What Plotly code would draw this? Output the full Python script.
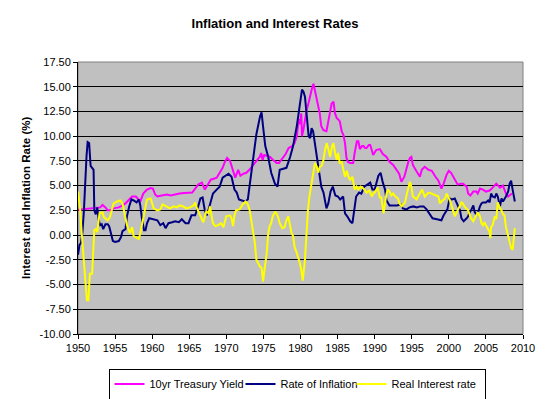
import plotly.graph_objects as go

# ---- data ----
treasury_years = [1950.0, 1950.5, 1951.0, 1951.5, 1952.0, 1952.5, 1953.0, 1953.3, 1953.7, 1954.0, 1954.4, 1954.8,
                  1955.5, 1956.0, 1956.4, 1956.9, 1957.3, 1957.8, 1958.1, 1958.4, 1958.8, 1959.3, 1959.8, 1960.1,
                  1960.4, 1960.7, 1961.3, 1962.0, 1962.5, 1963.0, 1963.7, 1964.3, 1965.0, 1965.4, 1965.8, 1966.2,
                  1966.7, 1967.1, 1967.5, 1967.9, 1968.3, 1968.7, 1969.1, 1969.5, 1969.8, 1970.1, 1970.5, 1970.9,
                  1971.2, 1971.6, 1971.9, 1972.3, 1972.7, 1973.1, 1973.6, 1974.0, 1974.5, 1974.7, 1974.9, 1975.1,
                  1975.6, 1975.9, 1976.3, 1976.8, 1977.1, 1977.6, 1978.0, 1978.4, 1978.9, 1979.2, 1979.5, 1979.75,
                  1979.95, 1980.1, 1980.2, 1980.4, 1980.6, 1980.85, 1981.1, 1981.3, 1981.5, 1981.75, 1982.0, 1982.2,
                  1982.4, 1982.6, 1982.8, 1983.1, 1983.5, 1983.8, 1984.2, 1984.45, 1984.65, 1984.9, 1985.1, 1985.3,
                  1985.55, 1985.8, 1986.0, 1986.2, 1986.4, 1986.7, 1987.1, 1987.3, 1987.6, 1987.8, 1988.0, 1988.3,
                  1988.5, 1988.7, 1988.9, 1989.2, 1989.4, 1989.8, 1990.2, 1990.7, 1991.1, 1991.6, 1992.0, 1992.5,
                  1992.9, 1993.3, 1993.6, 1994.0, 1994.5, 1994.75, 1994.95, 1995.15, 1995.6, 1996.1, 1996.35, 1996.75,
                  1997.25, 1997.7, 1998.2, 1998.6, 1999.0, 1999.3, 1999.7, 2000.0, 2000.3, 2000.6, 2001.0, 2001.2,
                  2001.6, 2001.9, 2002.4, 2002.6, 2002.9, 2003.3, 2003.7, 2003.9, 2004.2, 2004.6, 2005.0, 2005.5,
                  2005.9, 2006.4, 2006.9, 2007.3, 2007.5, 2007.7, 2008.0, 2008.2, 2008.5]
treasury = [2.55, 2.6, 2.65, 2.7, 2.7, 2.75, 2.8, 3.05, 2.8, 2.5, 2.5, 2.7,
            2.8, 3.0, 3.2, 3.6, 3.9, 3.9, 3.6, 3.4, 4.2, 4.6, 4.75, 4.7,
            4.1, 3.9, 4.0, 4.1, 4.0, 4.1, 4.2, 4.25, 4.25, 4.3, 4.7, 5.1,
            5.3, 4.6, 5.1, 5.6, 5.7, 5.8, 6.3, 6.8, 7.4, 7.8, 7.5, 6.6,
            5.8, 6.6, 6.0, 6.2, 6.3, 6.6, 7.1, 7.5, 7.9, 8.3, 7.6, 8.1,
            8.0, 7.9, 7.6, 7.3, 7.3, 7.8, 8.2, 8.8, 9.0, 9.3, 10.0, 11.7,
            11.2, 12.3, 10.0, 10.7, 11.7, 12.7, 13.4, 14.2, 14.7, 15.3, 14.4, 14.0,
            13.1, 12.3, 11.0, 10.6, 10.5, 11.7, 13.3, 13.5, 12.3, 11.8, 11.7, 11.5,
            10.5, 10.1, 9.3, 7.8, 7.4, 7.3, 7.3, 8.3, 9.5, 9.5, 8.7, 9.0,
            9.0, 8.8, 8.8, 9.1, 9.1, 8.1, 8.6, 8.7, 8.2, 7.9, 7.4, 7.1,
            6.6, 6.2, 5.4, 5.9, 7.3, 7.8, 7.9, 7.1, 6.5, 5.9, 6.6, 6.9,
            6.6, 6.5, 5.9, 5.5, 4.7, 5.2, 6.1, 6.5, 6.3, 5.9, 5.4, 5.1,
            5.2, 5.2, 4.9, 4.2, 4.0, 4.4, 4.4, 4.2, 4.7, 4.6, 4.4, 4.5,
            4.8, 5.2, 4.8, 5.0, 4.6, 4.2, 3.9, 4.0, 4.2]

inflation_years = [1950.0, 1950.2, 1950.4, 1950.6, 1950.8, 1951.0, 1951.15, 1951.3, 1951.5, 1951.7, 1951.9, 1952.1,
                   1952.2, 1952.4, 1952.6, 1952.8, 1953.0, 1953.2, 1953.4, 1953.7, 1954.0, 1954.2, 1954.5, 1954.7,
                   1955.0, 1955.5, 1955.8, 1956.0, 1956.4, 1956.6, 1956.9, 1957.2, 1957.5, 1957.9, 1958.2, 1958.4,
                   1958.6, 1958.9, 1959.1, 1959.3, 1959.6, 1960.0, 1960.4, 1960.7, 1961.1, 1961.5, 1961.8, 1962.2,
                   1962.7, 1963.1, 1963.6, 1964.0, 1964.5, 1964.9, 1965.3, 1965.8, 1966.2, 1966.5, 1966.8, 1967.1,
                   1967.4, 1967.8, 1968.2, 1968.7, 1969.1, 1969.5, 1970.0, 1970.3, 1970.7, 1971.1, 1971.4, 1971.7,
                   1972.1, 1972.5, 1972.9, 1973.15, 1973.65, 1974.05, 1974.55, 1974.75, 1974.95, 1975.25, 1975.65, 1976.05,
                   1976.55, 1976.9, 1977.2, 1977.7, 1978.1, 1978.6, 1979.0, 1979.5, 1979.9, 1980.2, 1980.4, 1980.6,
                   1980.85, 1981.1, 1981.3, 1981.5, 1981.7, 1982.0, 1982.2, 1982.4, 1982.6, 1982.8, 1983.1, 1983.3,
                   1983.5, 1983.75, 1984.05, 1984.35, 1984.7, 1985.05, 1985.35, 1985.75, 1986.0, 1986.3, 1986.7, 1987.0,
                   1987.2, 1987.5, 1987.9, 1988.2, 1988.6, 1989.1, 1989.4, 1989.7, 1990.0, 1990.5, 1990.8, 1991.1,
                   1991.4, 1991.6, 1992.0, 1992.5, 1993.0, 1993.5, 1993.8, 1994.3, 1994.7, 1995.2, 1995.7, 1996.1,
                   1996.6, 1997.0, 1997.4, 1997.8, 1998.4, 1999.0, 1999.3, 1999.8, 2000.1, 2000.4, 2000.8, 2001.0,
                   2001.2, 2001.5, 2001.7, 2002.0, 2002.4, 2002.6, 2002.8, 2003.0, 2003.3, 2003.5, 2003.7, 2003.9,
                   2004.2, 2004.4, 2004.6, 2005.0, 2005.3, 2005.5, 2005.7, 2005.9, 2006.2, 2006.4, 2006.6, 2006.9,
                   2007.1, 2007.3, 2007.7, 2008.0, 2008.2, 2008.4, 2008.6, 2008.9]
inflation = [-2.0, -1.0, -0.8, 0.3, 2.5, 6.0, 8.0, 9.4, 9.3, 7.0, 6.8, 6.6,
             2.5, 2.1, 2.8, 1.5, 1.0, 1.1, 0.6, 1.1, 1.1, 0.9, 0.0, -0.6,
             -0.7, -0.6, -0.2, 0.4, 0.6, 1.9, 2.9, 3.6, 3.5, 3.3, 3.6, 3.0,
             1.8, 0.5, 0.5, 1.2, 1.7, 1.6, 1.5, 1.5, 1.0, 1.2, 0.7, 1.2,
             1.3, 1.4, 1.3, 1.6, 1.2, 1.2, 2.0, 2.0, 2.9, 3.7, 3.8, 2.5,
             2.0, 3.0, 4.2, 4.6, 4.9, 5.8, 6.1, 6.2, 5.9, 4.6, 4.3, 3.6,
             3.5, 3.4, 3.6, 5.0, 7.9, 10.2, 12.0, 12.4, 11.0, 9.0, 7.9, 6.3,
             5.2, 4.9, 6.6, 6.7, 6.8, 7.9, 9.0, 11.0, 13.2, 14.7, 14.5, 14.0,
             12.0, 10.0, 9.8, 10.8, 10.5, 9.0, 7.6, 6.9, 5.6, 4.9, 4.3, 3.3,
             2.7, 3.2, 4.4, 4.9, 4.0, 3.9, 3.6, 3.9, 2.2, 1.9, 1.4, 1.2,
             2.2, 3.9, 4.3, 4.2, 4.9, 5.2, 5.3, 4.6, 4.6, 6.0, 6.3, 5.3,
             4.6, 3.5, 3.0, 3.0, 3.0, 3.1, 2.7, 2.6, 2.8, 2.9, 2.8, 2.9,
             2.9, 2.6, 2.2, 1.7, 1.6, 1.5, 2.0, 2.6, 3.7, 3.6, 3.7, 3.3,
             2.9, 2.5, 1.7, 1.4, 1.7, 1.9, 2.3, 2.5, 3.0, 2.3, 2.1, 2.2,
             2.9, 3.2, 3.3, 3.3, 3.5, 3.3, 4.2, 3.9, 3.8, 4.2, 3.9, 2.9,
             3.7, 3.4, 3.9, 4.4, 5.2, 5.5, 4.6, 3.4]

real_years = [1950.0, 1950.3, 1950.5, 1950.7, 1950.9, 1951.1, 1951.2, 1951.4, 1951.5, 1951.6, 1951.9, 1952.0,
              1952.2, 1952.4, 1952.6, 1952.9, 1953.3, 1953.5, 1954.0, 1954.3, 1954.6, 1954.8, 1955.3, 1955.7,
              1956.0, 1956.4, 1956.6, 1957.0, 1957.3, 1957.5, 1957.8, 1958.2, 1958.4, 1958.6, 1958.9, 1959.1,
              1959.3, 1959.8, 1960.0, 1960.2, 1960.7, 1961.1, 1961.4, 1962.0, 1962.4, 1962.9, 1963.3, 1963.7,
              1964.2, 1964.6, 1965.1, 1965.6, 1965.8, 1966.0, 1966.2, 1966.5, 1966.7, 1966.9, 1967.1, 1967.3,
              1967.6, 1967.8, 1968.0, 1968.2, 1968.5, 1968.9, 1969.3, 1969.6, 1970.0, 1970.5, 1970.7, 1970.9,
              1971.1, 1971.3, 1971.8, 1972.2, 1972.6, 1972.9, 1973.15, 1973.45, 1973.65, 1973.85, 1974.05, 1974.25,
              1974.55, 1974.75, 1974.85, 1974.95, 1975.15, 1975.45, 1975.65, 1975.85, 1976.05, 1976.25, 1976.6, 1976.95,
              1977.2, 1977.55, 1977.85, 1978.1, 1978.35, 1978.6, 1978.8, 1979.0, 1979.2, 1979.5, 1979.7, 1979.9,
              1980.1, 1980.3, 1980.6, 1980.8, 1981.0, 1981.2, 1981.5, 1981.75, 1981.95, 1982.2, 1982.4, 1982.6,
              1982.85, 1983.1, 1983.3, 1983.55, 1983.8, 1984.0, 1984.25, 1984.45, 1984.65, 1984.9, 1985.05, 1985.3,
              1985.55, 1985.8, 1986.0, 1986.25, 1986.45, 1986.7, 1987.0, 1987.3, 1987.55, 1987.8, 1988.1, 1988.5,
              1988.9, 1989.3, 1989.6, 1989.8, 1990.0, 1990.4, 1990.7, 1990.9, 1991.1, 1991.2, 1991.35, 1991.6,
              1991.8, 1992.0, 1992.25, 1992.5, 1992.8, 1993.15, 1993.35, 1993.65, 1993.85, 1994.1, 1994.35, 1994.55,
              1994.75, 1994.95, 1995.15, 1995.35, 1995.65, 1995.85, 1996.1, 1996.4, 1996.75, 1997.25, 1997.65, 1998.15,
              1998.6, 1998.8, 1999.0, 1999.5, 1999.7, 1999.95, 2000.1, 2000.4, 2000.6, 2000.8, 2001.0, 2001.2,
              2001.5, 2001.7, 2001.9, 2002.1, 2002.6, 2002.8, 2003.0, 2003.3, 2003.5, 2003.7, 2003.9, 2004.2,
              2004.4, 2004.6, 2004.8, 2005.0, 2005.3, 2005.5, 2005.6, 2005.7, 2005.9, 2006.2, 2006.4, 2006.6,
              2006.9, 2007.1, 2007.3, 2007.5, 2007.7, 2008.0, 2008.2, 2008.4, 2008.6, 2008.7, 2008.9]
real_rate = [4.4, 2.5, 0.2, -1.8, -3.9, -4.9, -6.6, -6.6, -5.2, -3.9, -3.9, -2.5,
             0.5, 0.6, 0.3, 2.2, 2.3, 1.8, 1.5, 1.8, 2.7, 3.2, 3.4, 3.5,
             3.2, 1.8, 1.0, 0.2, 0.8, -0.1, -0.2, -0.4, 0.2, 1.0, 2.2, 3.2,
             3.6, 3.7, 3.2, 2.7, 2.5, 2.6, 3.1, 2.9, 2.7, 2.9, 2.8, 3.0,
             2.9, 2.7, 2.8, 3.0, 3.3, 2.8, 2.4, 2.0, 1.6, 1.3, 1.8, 2.4,
             2.2, 2.9, 2.0, 1.2, 0.9, 1.0, 1.2, 0.8, 1.9, 2.0, 1.7, 0.9,
             2.0, 2.5, 2.6, 3.1, 3.4, 3.1, 2.5, 1.2, 0.2, -0.8, -2.5, -2.8,
             -3.2, -3.3, -3.9, -4.7, -3.5, -1.8, 0.2, 0.9, 1.2, 1.9, 2.4, 1.9,
             1.2, 0.7, 0.8, 1.5, 1.9, 1.1, 0.2, -0.1, -1.2, -1.8, -2.2, -2.8,
             -3.5, -4.6, -2.5, 0.5, 2.5, 3.9, 5.3, 6.6, 7.3, 6.9, 6.3, 6.9,
             7.0, 7.6, 8.6, 9.3, 8.3, 7.9, 9.0, 9.3, 8.3, 7.6, 8.3, 7.3,
             7.4, 6.6, 5.9, 6.5, 5.9, 5.6, 5.9, 4.6, 4.9, 4.6, 4.9, 4.7,
             4.3, 4.5, 3.9, 4.2, 4.3, 4.8, 3.8, 3.8, 2.5, 2.2, 3.0, 4.2,
             4.6, 4.4, 4.0, 4.2, 3.9, 3.7, 3.2, 2.9, 3.1, 3.3, 4.2, 4.9,
             5.4, 4.9, 3.9, 3.8, 3.6, 3.9, 4.2, 4.6, 3.9, 4.3, 4.2, 4.0,
             3.9, 3.2, 3.4, 3.7, 4.2, 3.8, 3.6, 2.9, 2.5, 1.9, 2.2, 2.5,
             3.1, 3.3, 3.2, 2.9, 2.5, 2.0, 1.7, 1.4, 1.7, 2.1, 2.3, 1.9,
             1.2, 1.0, 1.3, 1.0, 0.6, 0.3, -0.3, 0.8, 1.0, 1.9, 1.6, 3.3,
             2.7, 2.5, 2.1, 2.0, 0.8, -0.1, -0.6, -1.3, -1.5, -0.8, 0.7]

y_ticks = [-10, -7.5, -5, -2.5, 0, 2.5, 5, 7.5, 10, 12.5, 15, 17.5]
x_ticks = [1950, 1955, 1960, 1965, 1970, 1975, 1980, 1985, 1990, 1995, 2000, 2005, 2010]

FONT = "Liberation Sans, Arial, sans-serif"

fig = go.Figure()
fig.add_trace(go.Scatter(x=treasury_years, y=treasury, mode="lines", name="10yr Treasury Yield",
                         line=dict(color="#FF00FF", width=2), legendwidth=86))
fig.add_trace(go.Scatter(x=inflation_years, y=inflation, mode="lines", name="Rate of Inflation",
                         line=dict(color="#000080", width=2), legendwidth=66))
fig.add_trace(go.Scatter(x=real_years, y=real_rate, mode="lines", name="Real Interest rate",
                         line=dict(color="#FFFF00", width=2), legendwidth=88))

fig.update_layout(
    width=550, height=399,
    autosize=False,
    margin=dict(l=78, r=27, t=62, b=65, autoexpand=False),
    paper_bgcolor="white",
    plot_bgcolor="#C0C0C0",
    font=dict(family=FONT, size=11, color="black"),
    title=dict(text="Inflation and Interest Rates", x=0.5, xanchor="center",
               y=1 - 23 / 399, yanchor="middle",
               font=dict(family=FONT, size=13, color="black", weight="bold")),
    showlegend=True,
    legend=dict(orientation="h", x=(297 - 78) / 445, xanchor="center", y=-0.127, yanchor="top",
                bgcolor="white", bordercolor="black", borderwidth=1,
                font=dict(family=FONT, size=11, color="black"),
                itemwidth=30, tracegroupgap=0),
    xaxis=dict(range=[1950, 2010], tickmode="array", tickvals=x_ticks,
               ticktext=[str(v) for v in x_ticks],
               showgrid=False, zeroline=False, showline=True, linecolor="black", linewidth=1,
               ticks="outside", ticklen=4, tickcolor="black", tickfont=dict(size=11)),
    yaxis=dict(range=[-10, 17.5], tickmode="array", tickvals=y_ticks,
               ticktext=[f"{v:.2f}" for v in y_ticks],
               showgrid=True, gridcolor="black", gridwidth=1, zeroline=False,
               showline=True, linecolor="black", linewidth=1,
               ticks="outside", ticklen=4, tickcolor="black", tickfont=dict(size=11)),
    shapes=[dict(type="rect", xref="paper", yref="paper", x0=0, x1=1, y0=0, y1=1,
                 line=dict(color="#808080", width=1), layer="below")],
    annotations=[dict(text="Interest and Inflation Rate (%)", xref="paper", yref="paper",
                      x=(26 - 78) / 445, y=0.5, xanchor="center", yanchor="middle",
                      textangle=-90, showarrow=False,
                      font=dict(family=FONT, size=11.5, color="black", weight="bold"))],
)

fig.write_html("out.html", config={"responsive": False, "displayModeBar": False},
               post_script="document.body.style.margin='0';document.body.style.padding='0';"
                           "document.body.style.overflow='hidden';")
